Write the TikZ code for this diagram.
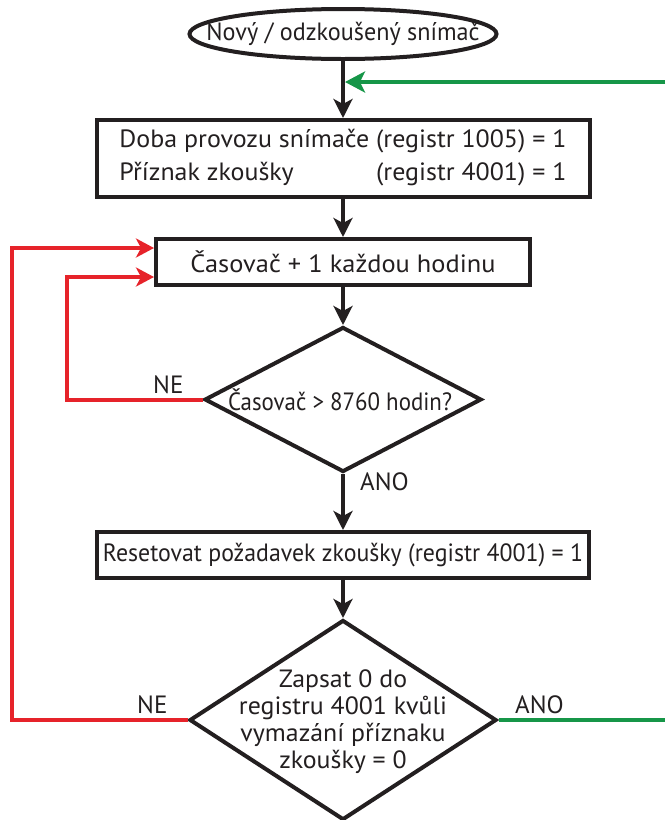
\documentclass[tikz,border=0pt]{standalone}
\usepackage{fontspec}
\setmainfont{PT Sans}
\usepackage{graphicx}
\usetikzlibrary{arrows.meta,shapes.geometric}
\definecolor{lred}{RGB}{230,35,42}
\definecolor{lgreen}{RGB}{22,150,72}
\definecolor{ink}{RGB}{35,31,32}
\newcommand{\fitw}[2]{\resizebox{#1}{\height}{#2}}
\begin{document}
\begin{tikzpicture}[x=1pt,y=-1pt,
  every node/.style={font=\fontsize{25}{29}\selectfont, text=ink},
  procbox/.style={draw=ink, line width=4pt, rectangle, inner sep=0pt},
  decision/.style={draw=ink, line width=4pt, diamond, inner sep=0pt},
  terminal/.style={draw=ink, line width=4pt, ellipse, inner sep=0pt},
  txt/.style={inner sep=0pt},
  flow/.style={draw=ink, line width=4pt, -{Stealth[length=19pt,width=19pt,inset=5pt]}},
  noflow/.style={draw=lred, line width=4pt, -{Stealth[length=18pt,width=19pt,inset=5pt]}},
  yesflow/.style={draw=lgreen, line width=4pt},
  yesarrow/.style={draw=lgreen, line width=4pt, -{Stealth[length=20pt,width=21pt,inset=5pt]}},
  lbl/.style={inner sep=0pt, anchor=base west}
]
\useasboundingbox (0,0) rectangle (665,820);

% shapes
\node[terminal, minimum width=307pt, minimum height=50pt] (t0) at (343,34) {};
\node[txt] (t0txt) at (t0.center) {\fitw{273pt}{Nový / odzkoušený snímač}};

\node[procbox, minimum width=493pt, minimum height=77pt] (b1) at (343,158.5) {};
\node[txt] (b1txt) at (343,157) {\fitw{447pt}{\fontsize{25}{33}\selectfont\begin{tabular}{@{}l@{}}Doba provozu snímače (registr 1005) = 1\\ Příznak zkoušky\hfill(registr 4001) = 1\end{tabular}}};

\node[procbox, minimum width=374pt, minimum height=46pt] (b2) at (343,262) {};
\node[txt] (b2txt) at (b2.center) {\fitw{305pt}{Časovač + 1 každou hodinu}};

\node[decision, minimum width=277pt, minimum height=145pt] (d1) at (343,399.5) {};
\node[txt] (d1txt) at (340,400) {\fitw{224pt}{Časovač > 8760 hodin?}};

\node[procbox, minimum width=492pt, minimum height=46pt] (b3) at (343,555) {};
\node[txt] (b3txt) at (b3.center) {\fitw{480pt}{Resetovat požadavek zkoušky (registr 4001) = 1}};

\node[decision, minimum width=307pt, minimum height=200pt] (d2) at (343,720) {};
\node[txt] (d2txt) at (343,723) {\fitw{208pt}{\fontsize{25}{27}\selectfont\begin{tabular}{@{}c@{}}Zapsat 0 do\\ registru 4001 kvůli\\ vymazání příznaku\\ zkoušky = 0\end{tabular}}};

% labels
\node[lbl] (ne1) at (153,393) {NE};
\node[lbl] (ano1) at (360,490) {ANO};
\node[lbl] (ne2) at (137,713) {NE};
\node[lbl] (ano2) at (515,713) {ANO};

% main flow
\draw[flow] (t0.south) -- (b1.north);
\draw[flow] (b1.south) -- (b2.north);
\draw[flow] (b2.south) -- (d1.north);
\draw[flow] (d1.south) -- (b3.north);
\draw[flow] (b3.south) -- (d2.north);

% green
\coordinate (gin) at (665,82);
\coordinate (gtip) at (345,82);
\draw[yesarrow] (gin) -- (gtip);
\coordinate (gout) at (665,720);
\draw[yesflow] (d2.east) -- (gout);

% red
\coordinate (rA) at (67,277);
\draw[noflow] (d1.west) -| (rA) -- (rA -| b2.west);
\coordinate (rB) at (12,248);
\draw[noflow] (d2.west) -| (rB) -- (rB -| b2.west);
\end{tikzpicture}
\end{document}
